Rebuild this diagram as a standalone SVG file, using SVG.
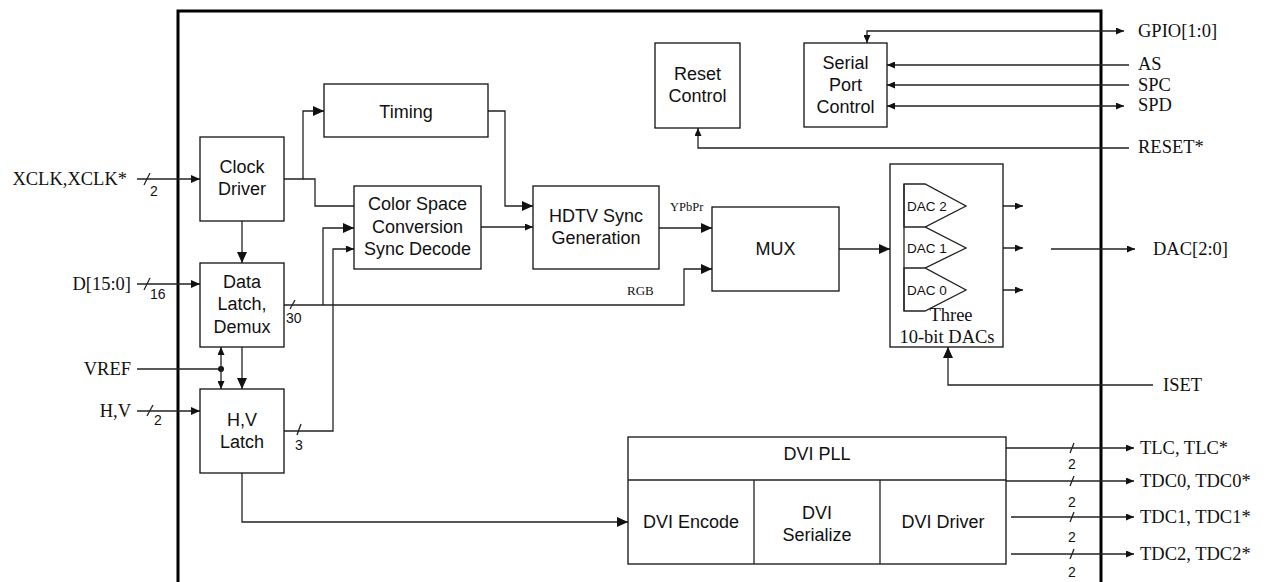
<svg xmlns="http://www.w3.org/2000/svg" width="1273" height="582" viewBox="0 0 1273 582">
<style>
.box{fill:#fff;stroke:#111;stroke-width:1.3}
.ln{fill:none;stroke:#222;stroke-width:1.3}
.t{font-family:"Liberation Sans",Arial,sans-serif;font-size:18px;fill:#111;text-anchor:middle}
.ts{font-family:"Liberation Sans",Arial,sans-serif;font-size:13.5px;fill:#111}
.r{font-family:"Liberation Serif","Times New Roman",serif;font-size:18.5px;fill:#111}
.n{font-family:"Liberation Sans",Arial,sans-serif;font-size:14px;fill:#111}
</style>
<defs>
<marker id="a" markerUnits="userSpaceOnUse" markerWidth="12" markerHeight="10" refX="11" refY="5" orient="auto-start-reverse"><path d="M0,0 L11,5 L0,10 z" fill="#111"/></marker>
<marker id="m" markerUnits="userSpaceOnUse" markerWidth="10" markerHeight="8" refX="9" refY="4" orient="auto-start-reverse"><path d="M0,0 L9,4 L0,8 z" fill="#111"/></marker>
<marker id="s" markerUnits="userSpaceOnUse" markerWidth="9" markerHeight="7" refX="8" refY="3.5" orient="auto-start-reverse"><path d="M0,0 L8,3.5 L0,7 z" fill="#111"/></marker>
</defs>
<rect width="1273" height="582" fill="#fff"/>
<path d="M178,582 V11 H1101 V582" fill="none" stroke="#000" stroke-width="3"/>

<g id="connectors">
<path class="ln" d="M137,179 H200" marker-end="url(#m)"/>
<path class="ln" d="M144,185 L150,173"/>
<path class="ln" d="M137,284 H200" marker-end="url(#m)"/>
<path class="ln" d="M144,290 L150,278"/>
<path class="ln" d="M137,411 H200" marker-end="url(#m)"/>
<path class="ln" d="M147,416 L153,405"/>
<path class="ln" d="M137,369 H221"/>
<circle cx="221" cy="369" r="3" fill="#111"/>
<path class="ln" d="M221,369 V347" marker-end="url(#s)"/>
<path class="ln" d="M221,369 V389" marker-end="url(#s)"/>
<path class="ln" d="M242,221 V263" stroke-width="1.6" marker-end="url(#a)"/>
<path class="ln" d="M242,347 V389" stroke-width="1.6" marker-end="url(#a)"/>
<path class="ln" d="M284,179 H303 V111 H324" marker-end="url(#a)"/>
<path class="ln" d="M303,179 H315 V206 H354"/>
<path class="ln" d="M284,305 H684 V269 H712" marker-end="url(#a)"/>
<path class="ln" d="M290,309 L295,300"/>
<path class="ln" d="M323,305 V228 H354" marker-end="url(#a)"/>
<path class="ln" d="M284,431 H333 V249 H354" marker-end="url(#s)"/>
<path class="ln" d="M297,435 L301,424"/>
<path class="ln" d="M481,227 H533" marker-end="url(#s)"/>
<path class="ln" d="M488,111 H505 V206 H533" marker-end="url(#a)"/>
<path class="ln" d="M659,228 H712" marker-end="url(#a)"/>
<path class="ln" d="M839,249 H890" marker-end="url(#a)"/>
<path class="ln" d="M966,206 H1023" marker-end="url(#s)"/>
<path class="ln" d="M966,248 H1023" marker-end="url(#s)"/>
<path class="ln" d="M966,290 H1023" marker-end="url(#s)"/>
<path class="ln" d="M1051,249 H1135" marker-end="url(#s)"/>
<path class="ln" d="M1153,385 H948 V347" marker-end="url(#a)"/>
<path class="ln" d="M242,473 V522 H628" marker-end="url(#a)"/>
<path class="ln" d="M1006,448 H1134" marker-end="url(#s)"/>
<path class="ln" d="M1006,481 H1134" marker-end="url(#s)"/>
<path class="ln" d="M1011,517 H1134" marker-end="url(#s)"/>
<path class="ln" d="M1011,554 H1134" marker-end="url(#s)"/>
<path class="ln" d="M1070,453 L1074,443 M1070,486 L1074,476 M1070,522 L1074,512 M1070,559 L1074,549"/>
<path class="ln" d="M867,43 V31 H1124" marker-start="url(#s)" marker-end="url(#s)"/>
<path class="ln" d="M1129,65 H887" marker-end="url(#s)"/>
<path class="ln" d="M1129,85 H887" marker-end="url(#s)"/>
<path class="ln" d="M887,106 H1124" marker-start="url(#s)" marker-end="url(#s)"/>
<path class="ln" d="M1129,148 H698 V128" marker-end="url(#s)"/>
</g>

<g id="bus-labels">
<text class="n" x="150" y="196">2</text>
<text class="n" x="150" y="299">16</text>
<text class="n" x="154" y="425">2</text>
<text class="n" x="286" y="323">30</text>
<text class="n" x="295" y="450">3</text>
<text class="n" x="1068" y="469">2</text>
<text class="n" x="1068" y="507">2</text>
<text class="n" x="1068" y="542">2</text>
<text class="n" x="1068" y="577">2</text>
<text x="670" y="211" font-family="Liberation Serif,serif" font-size="12.5" fill="#111">YPbPr</text>
<text x="627" y="295" font-family="Liberation Serif,serif" font-size="13" fill="#111">RGB</text>
</g>

<g id="pins">
<text class="r" x="127" y="185" text-anchor="end">XCLK,XCLK*</text>
<text class="r" x="131" y="290" text-anchor="end">D[15:0]</text>
<text class="r" x="131" y="375" text-anchor="end">VREF</text>
<text class="r" x="131" y="417" text-anchor="end">H,V</text>
<text class="r" x="1138" y="37">GPIO[1:0]</text>
<text class="r" x="1138" y="70">AS</text>
<text class="r" x="1138" y="91">SPC</text>
<text class="r" x="1138" y="111">SPD</text>
<text class="r" x="1138" y="153">RESET*</text>
<text class="r" x="1153" y="255">DAC[2:0]</text>
<text class="r" x="1163" y="391">ISET</text>
<text class="r" x="1140" y="454">TLC, TLC*</text>
<text class="r" x="1140" y="487">TDC0, TDC0*</text>
<text class="r" x="1140" y="523">TDC1, TDC1*</text>
<text class="r" x="1140" y="560">TDC2, TDC2*</text>
</g>

<g id="clock-driver"><rect class="box" x="200" y="137" width="84" height="84"/><text class="t" x="242" y="173">Clock</text><text class="t" x="242" y="195">Driver</text></g>
<g id="data-latch"><rect class="box" x="200" y="263" width="84" height="84"/><text class="t" x="242" y="288">Data</text><text class="t" x="242" y="310">Latch,</text><text class="t" x="242" y="333">Demux</text></g>
<g id="hv-latch"><rect class="box" x="200" y="389" width="84" height="84"/><text class="t" x="242" y="426">H,V</text><text class="t" x="242" y="448">Latch</text></g>
<g id="timing"><rect class="box" x="324" y="84" width="164" height="53"/><text class="t" x="406" y="118">Timing</text></g>
<g id="color-space"><rect class="box" x="354" y="186" width="127" height="83"/><text class="t" x="417.5" y="210">Color Space</text><text class="t" x="417.5" y="233">Conversion</text><text class="t" x="417.5" y="255">Sync Decode</text></g>
<g id="hdtv-sync"><rect class="box" x="533" y="186" width="126" height="83"/><text class="t" x="596" y="222">HDTV Sync</text><text class="t" x="596" y="244">Generation</text></g>
<g id="mux"><rect class="box" x="712" y="207" width="127" height="84"/><text class="t" x="775.5" y="255">MUX</text></g>
<g id="reset-control"><rect class="box" x="655" y="43" width="85" height="85"/><text class="t" x="697.5" y="80">Reset</text><text class="t" x="697.5" y="102">Control</text></g>
<g id="serial-port"><rect class="box" x="804" y="43" width="83" height="84"/><text class="t" x="845.5" y="69">Serial</text><text class="t" x="845.5" y="91">Port</text><text class="t" x="845.5" y="113">Control</text></g>
<g id="dacs">
<rect class="box" x="890" y="164" width="113" height="183"/>
<path class="ln" d="M904,184 H925 L966,206 L925,227 H904 Z M904,227 H925 L966,248 L925,268 H904 M904,268 H925 L966,290 L925,311 H904 Z" fill="none" stroke="#111"/>
<path class="ln" d="M904,184 V311"/>
<text class="ts" x="907" y="211">DAC 2</text>
<text class="ts" x="907" y="253">DAC 1</text>
<text class="ts" x="907" y="295">DAC 0</text>
<text class="r" x="951" y="321" text-anchor="middle">Three</text>
<text class="r" x="947" y="343" text-anchor="middle">10-bit DACs</text>
</g>
<g id="dvi">
<rect class="box" x="628" y="437" width="378" height="127"/>
<path class="ln" d="M628,480 H1006 M754,480 V564 M880,480 V564" stroke="#111"/>
<text class="t" x="817" y="460">DVI PLL</text>
<text class="t" x="691" y="528">DVI Encode</text>
<text class="t" x="817" y="519">DVI</text>
<text class="t" x="817" y="541">Serialize</text>
<text class="t" x="943" y="528">DVI Driver</text>
</g>
</svg>
